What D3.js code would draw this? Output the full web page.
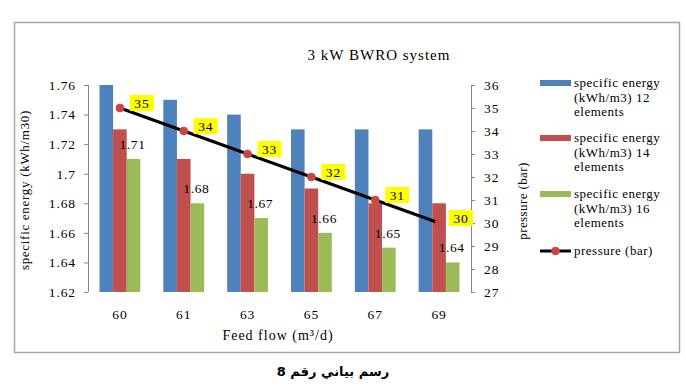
<!DOCTYPE html>
<html>
<head>
<meta charset="utf-8">
<script src="https://cdnjs.cloudflare.com/ajax/libs/d3/7.8.5/d3.min.js"></script>
<style>
  body { margin: 0; background: #fff; }
  text { font-family: "Liberation Serif", "Times New Roman", serif; fill: #000; }
</style>
</head>
<body>
<div id="chart"></div>
<script>

// chart values
var categories = ["60", "61", "63", "65", "67", "69"];
var energy12 = [1.76, 1.75, 1.74, 1.73, 1.73, 1.73];
var energy14 = [1.73, 1.71, 1.70, 1.69, 1.68, 1.68];
var energy16 = [1.71, 1.68, 1.67, 1.66, 1.65, 1.64];
var pressure = [35, 34, 33, 32, 31, 30];
var energyTicks = [1.62, 1.64, 1.66, 1.68, 1.7, 1.72, 1.74, 1.76];
var pressureTicks = [27, 28, 29, 30, 31, 32, 33, 34, 35, 36];
var seriesNames = [
    ["specific energy", "(kWh/m3) 12", "elements"],
    ["specific energy", "(kWh/m3) 14", "elements"],
    ["specific energy", "(kWh/m3) 16", "elements"]
];
var colors = ["#4f81bd", "#c0504d", "#9bbb59"];

var svg_width = 686,
    svg_height = 392,
    margin = {top: 85, right: 215, bottom: 100, left: 88},
    width = svg_width - margin.left - margin.right,
    height = svg_height - margin.top - margin.bottom;

var svg = d3.select("#chart").append("svg")
    .attr("width", svg_width)
    .attr("height", svg_height);

// outer frame
svg.append("rect")
    .attr("x", 14.5).attr("y", 22.5)
    .attr("width", 665).attr("height", 330)
    .attr("fill", "#fff")
    .attr("stroke", "#a6a6a6")
    .attr("stroke-width", 1.5);

var g = svg.append("g")
    .attr("transform", "translate(" + margin.left + "," + margin.top + ")");

var x0 = d3.scaleBand()
    .domain(categories)
    .range([0, width])
    .paddingInner(0.36)
    .paddingOuter(0.18);

var x1 = d3.scaleBand()
    .domain([0, 1, 2])
    .range([0, x0.bandwidth()]);

var y = d3.scaleLinear()
    .domain([1.62, 1.76])
    .range([height, 0]);

var y2 = d3.scaleLinear()
    .domain([27, 36])
    .range([height, 0]);

var series = [energy12, energy14, energy16];

// bars
series.forEach(function (vals, s) {
    g.append("g")
        .selectAll("rect")
        .data(vals)
        .enter().append("rect")
        .attr("x", function (d, i) { return x0(categories[i]) + x1(s); })
        .attr("y", function (d) { return y(d); })
        .attr("width", x1.bandwidth())
        .attr("height", function (d) { return height - y(d); })
        .attr("fill", colors[s]);
});

// value labels above the 16 element bars
g.append("g")
    .selectAll("text")
    .data(energy16)
    .enter().append("text")
    .attr("x", function (d, i) { return x0(categories[i]) + x1(2) + x1.bandwidth() / 2 - 1; })
    .attr("y", function (d) { return y(d) - 10; })
    .attr("text-anchor", "middle")
    .style("font-size", "13.5px")
    .style("letter-spacing", "0.6px")
    .text(function (d) { return d3.format(".2f")(d); });

// axes
var axisColor = "#868686";

var leftAxis = g.append("g")
    .call(d3.axisLeft(y).tickValues(energyTicks).tickSize(4).tickPadding(8)
        .tickFormat(function (d) { return String(d); }));

var rightAxis = g.append("g")
    .attr("transform", "translate(" + width + ",0)")
    .call(d3.axisRight(y2).tickValues(pressureTicks).tickSize(4).tickPadding(9));

var bottomAxis = g.append("g")
    .attr("transform", "translate(0," + height + ")")
    .call(d3.axisBottom(x0).tickSize(0).tickPadding(17));

[leftAxis, rightAxis, bottomAxis].forEach(function (a) {
    a.selectAll("path, line").attr("stroke", axisColor);
    a.selectAll("text")
        .style("font-family", "'Liberation Serif', serif")
        .style("font-size", "13.5px")
        .style("letter-spacing", "0.9px")
        .attr("fill", "#000");
});
leftAxis.select(".domain").attr("d", "M0.5," + height + "V0");
rightAxis.select(".domain").attr("d", "M0.5," + height + "V0");
bottomAxis.select(".domain").attr("d", "M0," + (height + 0.5) + "H" + width);

// pressure line
var line = d3.line()
    .x(function (d, i) { return x0(categories[i]) + x0.bandwidth() / 2; })
    .y(function (d) { return y2(d); });

g.append("path")
    .datum(pressure)
    .attr("d", line)
    .attr("fill", "none")
    .attr("stroke", "#000")
    .attr("stroke-width", 3);

g.append("g")
    .selectAll("circle")
    .data(pressure)
    .enter().append("circle")
    .attr("cx", function (d, i) { return x0(categories[i]) + x0.bandwidth() / 2; })
    .attr("cy", function (d) { return y2(d); })
    .attr("r", 4)
    .attr("fill", "#e0402a")
    .attr("stroke", "#8064a2")
    .attr("stroke-width", 0.8);

// yellow pressure labels
var plabels = g.append("g")
    .selectAll("g")
    .data(pressure)
    .enter().append("g")
    .attr("transform", function (d, i) {
        return "translate(" + (x0(categories[i]) + x0.bandwidth() / 2 + 10) + "," + (y2(d) - 5) + ")";
    });

plabels.append("rect")
    .attr("x", 0).attr("y", -8)
    .attr("width", 24).attr("height", 16)
    .attr("fill", "#ffff00");

plabels.append("text")
    .attr("x", 12).attr("y", 4.5)
    .attr("text-anchor", "middle")
    .style("font-size", "13.5px")
    .style("letter-spacing", "0.8px")
    .text(function (d) { return d; });

// titles
svg.append("text")
    .attr("x", 379).attr("y", 60)
    .attr("text-anchor", "middle")
    .style("font-size", "15px")
    .style("letter-spacing", "1px")
    .text("3 kW BWRO system");

svg.append("text")
    .attr("text-anchor", "middle")
    .attr("transform", "translate(29," + 190 + ")rotate(-90)")
    .style("font-size", "13px")
    .style("letter-spacing", "0.7px")
    .text("specific energy (kWh/m30)");

svg.append("text")
    .attr("text-anchor", "middle")
    .attr("transform", "translate(527," + 201 + ")rotate(-90)")
    .style("font-size", "13px")
    .style("letter-spacing", "0.4px")
    .text("pressure (bar)");

svg.append("text")
    .attr("x", 278).attr("y", 340)
    .attr("text-anchor", "middle")
    .style("font-size", "14px")
    .style("letter-spacing", "1px")
    .text("Feed flow (m\u00b3/d)");

// legend
var legendY = [83, 138, 194, 251];
var legend = svg.append("g");

seriesNames.forEach(function (lines, s) {
    legend.append("rect")
        .attr("x", 540).attr("y", legendY[s] - 3)
        .attr("width", 31).attr("height", 6)
        .attr("fill", colors[s]);
    lines.forEach(function (t, k) {
        legend.append("text")
            .attr("x", 574).attr("y", legendY[s] + 4 + k * 14.5)
            .style("font-size", "13px")
            .style("letter-spacing", "0.5px")
            .text(t);
    });
});

legend.append("line")
    .attr("x1", 540).attr("x2", 571)
    .attr("y1", legendY[3]).attr("y2", legendY[3])
    .attr("stroke", "#000").attr("stroke-width", 3);
legend.append("circle")
    .attr("cx", 555.5).attr("cy", legendY[3]).attr("r", 4)
    .attr("fill", "#e0402a").attr("stroke", "#8064a2").attr("stroke-width", 0.8);
legend.append("text")
    .attr("x", 574).attr("y", legendY[3] + 4)
    .style("font-size", "13px")
    .style("letter-spacing", "0.5px")
    .text("pressure (bar)");

// caption under the frame
svg.append("text")
    .attr("x", 333).attr("y", 376)
    .attr("text-anchor", "middle")
    .attr("direction", "rtl")
    .style("font-family", "'DejaVu Sans', 'Noto Sans', sans-serif")
    .style("font-weight", "bold")
    .style("font-size", "13px")
    .text("رسم بياني رقم 8");

</script>
</body>
</html>
